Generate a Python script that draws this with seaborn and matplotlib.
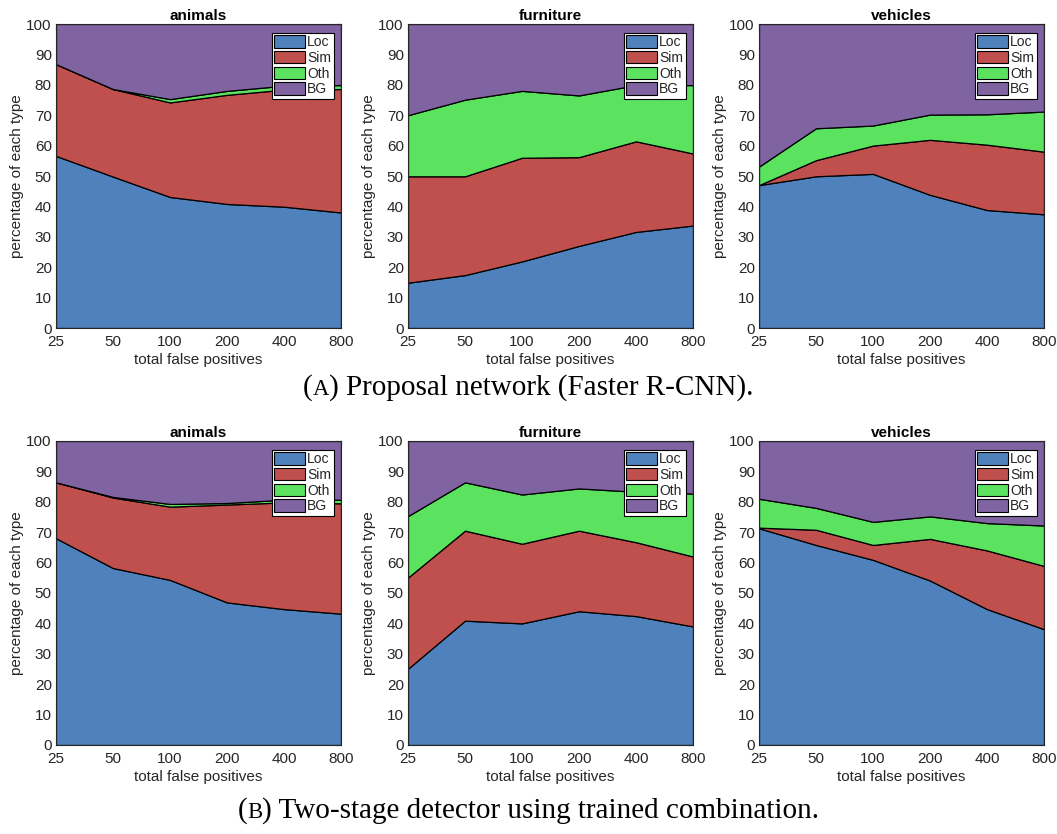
import numpy as np
import matplotlib
matplotlib.use("Agg")
import matplotlib.pyplot as plt
import seaborn as sns
from matplotlib.patches import Patch

sns.set_theme(style="white")
plt.rcParams["font.family"] = ["Liberation Sans", "DejaVu Sans"]

# x categories: total number of false positives
fp_labels = ["25", "50", "100", "200", "400", "800"]
types = ["Loc", "Sim", "Oth", "BG"]
colors = ["#4F81BD", "#C0504D", "#5BE35F", "#8064A2"]
categories = ["animals", "furniture", "vehicles"]

# (A) Proposal network: share of each false-positive type (percent)
a_animals_loc = [56.6, 49.8, 43.1, 40.8, 39.9, 38.0]
a_animals_sim = [30.2, 28.8, 31.1, 35.9, 38.5, 40.6]
a_animals_oth = [0.0, 0.0, 1.1, 1.3, 1.3, 1.3]

a_furniture_loc = [14.9, 17.4, 21.9, 27.0, 31.6, 33.7]
a_furniture_sim = [35.0, 32.5, 34.1, 29.2, 29.8, 23.7]
a_furniture_oth = [20.1, 25.2, 22.0, 20.3, 18.5, 22.5]

a_vehicles_loc = [47.0, 49.9, 50.7, 43.8, 38.8, 37.4]
a_vehicles_sim = [0.0, 5.3, 9.3, 18.1, 21.5, 20.6]
a_vehicles_oth = [6.1, 10.5, 6.6, 8.3, 10.0, 13.2]

# (B) Two-stage detector using trained combination
b_animals_loc = [68.0, 58.2, 54.3, 46.9, 44.7, 43.2]
b_animals_sim = [18.4, 23.2, 24.1, 32.2, 35.1, 36.3]
b_animals_oth = [0.0, 0.2, 0.9, 0.5, 0.9, 1.2]

b_furniture_loc = [25.1, 40.9, 40.0, 44.0, 42.4, 39.0]
b_furniture_sim = [30.0, 29.6, 26.2, 26.5, 24.3, 23.0]
b_furniture_oth = [20.2, 15.9, 16.2, 13.9, 16.6, 20.7]

b_vehicles_loc = [71.3, 65.8, 60.9, 54.1, 44.7, 38.1]
b_vehicles_sim = [0.2, 5.0, 4.9, 13.7, 19.3, 20.8]
b_vehicles_oth = [9.5, 7.2, 7.6, 7.4, 9.0, 13.3]

panels = {
    "A": [(a_animals_loc, a_animals_sim, a_animals_oth),
          (a_furniture_loc, a_furniture_sim, a_furniture_oth),
          (a_vehicles_loc, a_vehicles_sim, a_vehicles_oth)],
    "B": [(b_animals_loc, b_animals_sim, b_animals_oth),
          (b_furniture_loc, b_furniture_sim, b_furniture_oth),
          (b_vehicles_loc, b_vehicles_sim, b_vehicles_oth)],
}

W, H = 1057, 834
fig = plt.figure(figsize=(W / 100, H / 100), dpi=100)

col_left = [56, 408, 759]
row_top = {"A": 24, "B": 441}
ax_w, ax_h = 285, 304
ink = "#262626"

x = np.arange(len(fp_labels))

for row, panel in panels.items():
    for ci, (loc, sim, oth) in enumerate(panel):
        left = col_left[ci] / W
        bottom = 1 - (row_top[row] + ax_h) / H
        ax = fig.add_axes([left, bottom, ax_w / W, ax_h / H])
        loc, sim, oth = map(np.asarray, (loc, sim, oth))
        bg = 100 - loc - sim - oth
        ax.stackplot(x, loc, sim, oth, bg, colors=colors,
                     edgecolor="black", linewidth=0.9)
        ax.set_xlim(0, len(fp_labels) - 1)
        ax.set_ylim(0, 100)
        ax.set_xticks(x)
        ax.set_xticklabels(fp_labels)
        ax.set_yticks(np.arange(0, 101, 10))
        ax.tick_params(direction="in", top=True, right=True, length=4,
                       width=0.8, colors=ink, labelsize=11, pad=3)
        ax.tick_params(axis="x", pad=5)
        for s in ax.spines.values():
            s.set_color(ink)
            s.set_linewidth(0.8)
        ax.set_title(categories[ci], fontsize=11, fontweight="bold",
                     color="black", pad=3)
        ax.set_xlabel("total false positives", fontsize=11, color=ink,
                      labelpad=3)
        ax.set_ylabel("percentage of each type", fontsize=11, color=ink,
                      labelpad=2)
        handles = [Patch(facecolor=c, edgecolor="black", linewidth=0.8)
                   for c in colors]
        leg = ax.legend(handles, types, loc="upper right",
                        bbox_to_anchor=(0.975, 0.972), fontsize=10,
                        frameon=True, fancybox=False, handlelength=2.2,
                        handleheight=1.0, handletextpad=0.15,
                        labelspacing=0.12, borderpad=0.2,
                        borderaxespad=0.0)
        leg.get_frame().set_edgecolor("black")
        leg.get_frame().set_linewidth(0.8)
        leg.get_frame().set_facecolor("white")
        leg.get_frame().set_alpha(1)


def caption(letter, rest, y_px, size=21):
    """Caption with a small-caps sub-figure letter, centred horizontally."""
    renderer = fig.canvas.get_renderer()
    fam = ["Liberation Serif", "DejaVu Serif"]
    parts = [("(", size), (letter, size * 0.78), (") " + rest, size)]
    texts = []
    for s, sz in parts:
        t = fig.text(0, 1 - y_px / H, s, fontsize=sz, family=fam,
                     color="black", va="baseline", ha="left")
        texts.append(t)
    widths = [t.get_window_extent(renderer).width for t in texts]
    total = sum(widths)
    xpos = (W - total) / 2
    for t, w in zip(texts, widths):
        t.set_x(xpos / W)
        xpos += w


caption("A", "Proposal network (Faster R-CNN).", 395)
caption("B", "Two-stage detector using trained combination.", 818)

fig.savefig("out.png", dpi=100)
